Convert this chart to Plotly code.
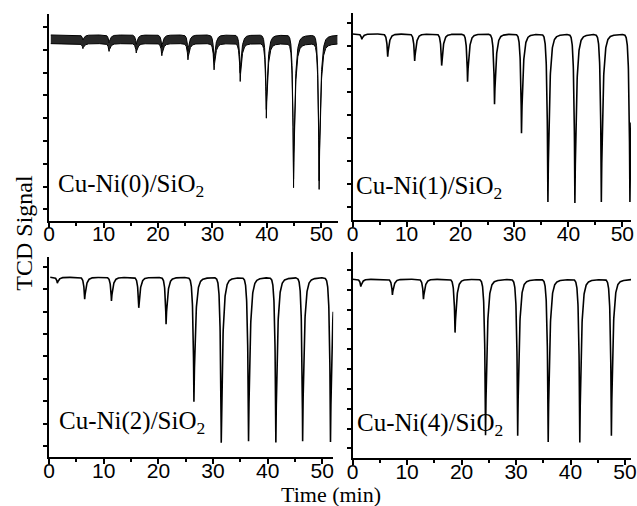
import numpy as np
import plotly.graph_objects as go

# ---------------- data ----------------
samples = ["Cu-Ni(0)/SiO<sub>2</sub>", "Cu-Ni(1)/SiO<sub>2</sub>",
           "Cu-Ni(2)/SiO<sub>2</sub>", "Cu-Ni(4)/SiO<sub>2</sub>"]

x_ticks = [0, 10, 20, 30, 40, 50]

# time window of each recorded trace (min)
t_start = [0.3, 0.0, 0.2, 0.0]
t_end = [53.0, 51.6, 52.0, 51.1]

# baseline level of each trace (arbitrary units)
baseline = [7.27, 7.53, 7.53, 8.53]

# pulse positions (min) and minimum signal reached
peaks_t0 = [6.2, 11.0, 16.0, 20.7, 25.5, 30.3, 35.1, 39.9, 44.9, 49.6]
peaks_y0 = [7.05, 6.93, 6.86, 6.74, 6.56, 6.12, 5.61, 4.00, 0.95, 0.88]

peaks_t1 = [1.7, 6.5, 11.5, 16.5, 21.3, 26.3, 31.3, 36.2, 41.2, 46.1, 51.4]
peaks_y1 = [7.30, 6.55, 6.36, 6.16, 5.46, 4.48, 3.22, 0.24, 0.20, 0.24, 0.24]

peaks_t2 = [1.5, 6.5, 11.4, 16.4, 21.4, 26.5, 31.5, 36.5, 41.5, 46.4, 51.5]
peaks_y2 = [7.27, 6.55, 6.48, 6.17, 5.44, 1.98, 0.15, 0.22, 0.17, 0.22, 0.19]

peaks_t4 = [1.5, 7.3, 13.0, 18.8, 24.4, 30.3, 35.9, 41.7, 47.5]
peaks_y4 = [8.16, 7.74, 7.52, 5.84, 0.67, 0.64, 0.33, 0.30, 0.64]

# noise band half-width for the first (noisy) trace
noise_half = 0.19

y_ranges = [[-0.50, 8.57], [-0.55, 8.43], [-0.50, 8.45], [-0.50, 9.92]]
y_tick_count = [9, 9, 9, 10]

# ---------------- helpers ----------------
def trace_curve(t, base, times, mins, wl=0.18, wr=0.30, tail=0.04):
    y = np.full_like(t, base, dtype=float)
    for t0, m in zip(times, mins):
        amp = base - m
        dt = t - t0
        prof = np.where(dt < 0, np.exp(np.minimum(dt, 0) / wl),
                        (1 - tail) * np.exp(-np.maximum(dt, 0) / wr)
                        + tail * np.exp(-np.maximum(dt, 0) / 1.3))
        y = y - amp * prof
    return y

W, H = 637, 506
doms_px = [  # (x0, x1, ytop, ybottom) in pixels
    (44, 338, 14, 220.7),
    (353.3, 637, 13.3, 220),
    (44, 333.5, 256.7, 457.3),
    (353.3, 637, 251.7, 458.3),
]

fig = go.Figure()
peak_sets = [(peaks_t0, peaks_y0), (peaks_t1, peaks_y1),
             (peaks_t2, peaks_y2), (peaks_t4, peaks_y4)]

for i in range(4):
    t = np.arange(t_start[i], t_end[i] + 1e-9, 0.02)
    pt, py = peak_sets[i]
    y = trace_curve(t, baseline[i], pt, py)
    xa = "x" if i == 0 else f"x{i+1}"
    ya = "y" if i == 0 else f"y{i+1}"
    if i == 0:
        fig.add_trace(go.Scatter(x=t, y=y, mode="lines", xaxis=xa, yaxis=ya,
                                 line=dict(color="black", width=1), showlegend=False))
        fig.add_trace(go.Scatter(x=t, y=y + 2 * noise_half, mode="lines", xaxis=xa, yaxis=ya,
                                 fill="tonexty", fillcolor="rgba(15,15,15,0.9)",
                                 line=dict(color="black", width=1), showlegend=False))
    else:
        fig.add_trace(go.Scatter(x=t, y=y, mode="lines", xaxis=xa, yaxis=ya,
                                 line=dict(color="black", width=1.6), showlegend=False))

layout = dict(width=W, height=H, margin=dict(l=0, r=0, t=0, b=0),
              paper_bgcolor="white", plot_bgcolor="white")

for i, (x0, x1, yt, yb) in enumerate(doms_px):
    sfx = "" if i == 0 else str(i + 1)
    # main axis: line + outside ticks, no labels
    layout["xaxis" + sfx] = dict(
        domain=[x0 / W, x1 / W], range=[0, t_end[i]],
        anchor="y" + sfx, showline=True, linecolor="black", linewidth=2,
        ticks="outside", ticklen=5, tickwidth=2, tickcolor="black",
        tickvals=x_ticks, showticklabels=False,
        minor=dict(ticks="outside", ticklen=3, tickwidth=2, tickcolor="black", dtick=5),
        showgrid=False, zeroline=False, fixedrange=True)
    # overlay axis carrying only the tick labels (sits closer to the axis line)
    layout["xaxis" + str(i + 5)] = dict(
        overlaying="x" + sfx, anchor="free", position=1 - (yb - 1.5) / H, side="bottom",
        range=[0, t_end[i]], showline=False, ticks="",
        tickvals=x_ticks, ticktext=[str(v) for v in x_ticks],
        ticklabeloverflow="allow",
        tickfont=dict(family="Liberation Sans", size=21, color="black"),
        showgrid=False, zeroline=False, fixedrange=True)
    layout["yaxis" + sfx] = dict(
        domain=[1 - yb / H, 1 - yt / H], range=y_ranges[i],
        anchor="x" + sfx, showline=True, linecolor="black", linewidth=2,
        ticks="outside", ticklen=4, tickwidth=2, tickcolor="black",
        tickvals=list(range(y_tick_count[i])), showticklabels=False,
        showgrid=False, zeroline=False, fixedrange=True)

fig.update_layout(**layout)

# invisible helper traces so the label axes are drawn
for i in range(4):
    fig.add_trace(go.Scatter(x=[0], y=[y_ranges[i][0]], mode="markers",
                             marker=dict(opacity=0), hoverinfo="skip",
                             xaxis="x" + str(i + 5), yaxis="y" if i == 0 else f"y{i+1}",
                             showlegend=False))

label_pos = [(51, 185), (355, 187), (52, 422), (356, 424)]
for (px, py), s in zip(label_pos, samples):
    fig.add_annotation(x=px / W, y=1 - py / H, xref="paper", yref="paper",
                       text=s, showarrow=False, xanchor="left", yanchor="middle",
                       font=dict(family="Liberation Serif", size=25, color="black"))

fig.add_annotation(x=18 / W, y=1 - 233 / H, xref="paper", yref="paper",
                   text="TCD Signal", showarrow=False, textangle=-90,
                   xanchor="center", yanchor="middle",
                   font=dict(family="Liberation Serif", size=24, color="black"))
fig.add_annotation(x=331 / W, y=1 - 494.5 / H, xref="paper", yref="paper",
                   text="Time (min)", showarrow=False,
                   xanchor="center", yanchor="middle",
                   font=dict(family="Liberation Serif", size=22, color="black"))

fig.write_html("out.html")
